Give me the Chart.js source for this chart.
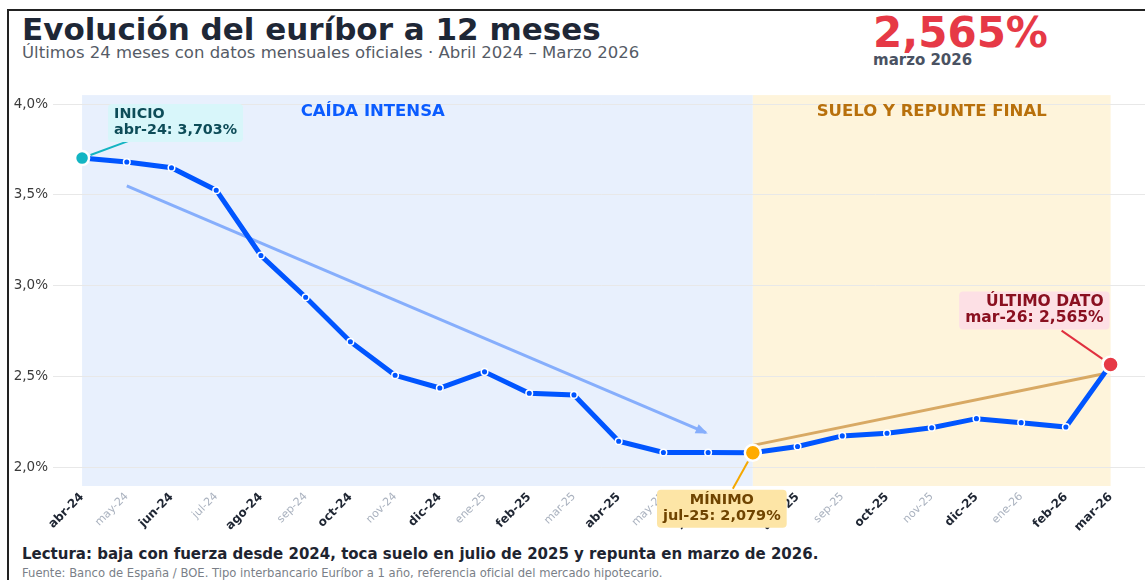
<!DOCTYPE html>
<html lang="es">
<head>
<meta charset="utf-8">
<title>Evolución del euríbor a 12 meses</title>
<script src="https://cdn.jsdelivr.net/npm/chart.js@4.4.1/dist/chart.umd.min.js"></script>
<style>
  html, body { margin: 0; padding: 0; background: #fff; overflow: hidden; }
  body { width: 1145px; height: 580px; position: relative; font-family: "DejaVu Sans", sans-serif; }
  .frame { position: absolute; left: 7px; top: 9px; width: 1200px; height: 600px;
           border-top: 2px solid #222; border-left: 2px solid #222; }
  .txt { position: absolute; white-space: nowrap; line-height: 1; }
  #titulo { left: 22px; top: 14px; font-size: 31px; font-weight: bold; color: #1e2736; }
  #subtitulo { left: 22px; top: 45px; font-size: 16.5px; color: #555b66; }
  #valor { left: 873px; top: 12px; font-size: 42px; font-weight: bold; color: #e63946; }
  #fecha { left: 873px; top: 53px; font-size: 15px; font-weight: bold; color: #4a5262; }
  #lectura { left: 22px; top: 547px; font-size: 15px; font-weight: bold; color: #1e2430; }
  #fuente { left: 22px; top: 568px; font-size: 11.6px; color: #7a7f88; }
  canvas { position: absolute; left: 0; top: 82px; }
</style>
</head>
<body>
<div class="frame"></div>
<div class="txt" id="titulo">Evolución del euríbor a 12 meses</div>
<div class="txt" id="subtitulo">Últimos 24 meses con datos mensuales oficiales · Abril 2024 – Marzo 2026</div>
<div class="txt" id="valor">2,565%</div>
<div class="txt" id="fecha">marzo 2026</div>
<canvas id="grafico" width="1160" height="454"></canvas>
<div class="txt" id="lectura">Lectura: baja con fuerza desde 2024, toca suelo en julio de 2025 y repunta en marzo de 2026.</div>
<div class="txt" id="fuente">Fuente: Banco de España / BOE. Tipo interbancario Euríbor a 1 año, referencia oficial del mercado hipotecario.</div>
<script>
// datos mensuales (%)
const meses = ["abr-24", "may-24", "jun-24", "jul-24", "ago-24", "sep-24", "oct-24", "nov-24",
  "dic-24", "ene-25", "feb-25", "mar-25", "abr-25", "may-25", "jun-25", "jul-25",
  "ago-25", "sep-25", "oct-25", "nov-25", "dic-25", "ene-26", "feb-26", "mar-26"];
const euribor = [3.703, 3.681, 3.650, 3.526, 3.166, 2.936, 2.691, 2.506,
  2.436, 2.525, 2.407, 2.398, 2.143, 2.081, 2.081, 2.079,
  2.114, 2.172, 2.187, 2.217, 2.267, 2.245, 2.221, 2.565];
const yTicks = [2.0, 2.5, 3.0, 3.5, 4.0];

// tramos (índices de mes) y sus rótulos
const fases = [[0, 15], [15, 23]];
const faseNombres = ["CAÍDA INTENSA", "SUELO Y REPUNTE FINAL"];
const faseCentros = [6.5, 19];

// líneas de tendencia [mes, %]
const tendBajada = [[1, 3.55], [13.95, 2.19]];
const tendRepunte = [[15, 2.12], [22.85, 2.515]];

// puntos destacados: inicio, mínimo, último
const destacados = [0, 15, 23];
const destTitulos = ["INICIO", "MÍNIMO", "ÚLTIMO DATO"];

const fmt = v => v.toFixed(3).replace(".", ",");

const colFases = ["#e8f0fd", "#fef4db"];
const colFaseTxt = ["#0b5cff", "#b8700c"];
const estiloDest = [
  { punto: "#13b5c3", caja: "#d8f6fa", texto: "#0d4c58", linea: "#14b4c2", r: 7, fs: 14.3,
    align: "left", bx: 26, by: -54, lx: 46, ly: -17 },
  { punto: "#ffab00", caja: "#fde5a6", texto: "#6f4400", linea: "#f5a800", r: 8, fs: 14.5,
    align: "center", bx: -31, by: 37, lx: -20, ly: 36 },
  { punto: "#e63946", caja: "#fde0e5", texto: "#8a1020", linea: "#e0303f", r: 8, fs: 15.5,
    align: "right", bx: -1, by: -73, lx: -49, ly: -34 }
];

Chart.defaults.font.family = "'DejaVu Sans', sans-serif";

const fondo = {
  id: "fondo",
  beforeDraw(chart) {
    const { ctx, chartArea: a, scales: { x } } = chart;
    ctx.save();
    fases.forEach((f, i) => {
      const x0 = x.getPixelForValue(f[0]), x1 = x.getPixelForValue(f[1]);
      ctx.fillStyle = colFases[i];
      ctx.fillRect(x0, a.top, x1 - x0, a.bottom - a.top);
    });
    ctx.restore();
  },
  afterDraw(chart) {
    const { ctx, chartArea: a, scales: { x, y } } = chart;
    ctx.save();
    // rótulos de tramo
    ctx.font = "bold 16.5px 'DejaVu Sans'";
    ctx.textAlign = "center";
    ctx.textBaseline = "middle";
    faseNombres.forEach((t, i) => {
      ctx.fillStyle = colFaseTxt[i];
      ctx.fillText(t, x.getPixelForValue(faseCentros[i]), a.top + 17);
    });

    // punta de flecha de la tendencia bajista
    const p0 = [x.getPixelForValue(tendBajada[0][0]), y.getPixelForValue(tendBajada[0][1])];
    const p1 = [x.getPixelForValue(tendBajada[1][0]), y.getPixelForValue(tendBajada[1][1])];
    const ang = Math.atan2(p1[1] - p0[1], p1[0] - p0[0]);
    ctx.fillStyle = "#86aefc";
    ctx.beginPath();
    ctx.moveTo(p1[0] + 2 * Math.cos(ang), p1[1] + 2 * Math.sin(ang));
    ctx.lineTo(p1[0] - 10 * Math.cos(ang) - 5 * Math.sin(ang), p1[1] - 10 * Math.sin(ang) + 5 * Math.cos(ang));
    ctx.lineTo(p1[0] - 10 * Math.cos(ang) + 5 * Math.sin(ang), p1[1] - 10 * Math.sin(ang) - 5 * Math.cos(ang));
    ctx.closePath();
    ctx.fill();

    // notas de puntos destacados
    destacados.forEach((idx, k) => {
      const s = estiloDest[k];
      const px = x.getPixelForValue(idx), py = y.getPixelForValue(euribor[idx]);
      // línea guía
      const sx = px + s.lx, sy = py + s.ly;
      const d = Math.hypot(sx - px, sy - py);
      const ex = px + (sx - px) / d * (s.r + 2), ey = py + (sy - py) / d * (s.r + 2);
      ctx.strokeStyle = s.linea;
      ctx.lineWidth = 2;
      ctx.beginPath();
      ctx.moveTo(sx, sy);
      ctx.lineTo(ex, ey);
      ctx.stroke();
      // caja
      const lineas = [destTitulos[k], meses[idx] + ": " + fmt(euribor[idx]) + "%"];
      ctx.font = "bold " + s.fs + "px 'DejaVu Sans'";
      const w = Math.max(...lineas.map(l => ctx.measureText(l).width)) + 12;
      const h = 38;
      let bx;
      if (s.align === "left") bx = px + s.bx;
      else if (s.align === "center") bx = px + s.bx - w / 2;
      else bx = px + s.bx - w;
      const by = py + s.by;
      ctx.fillStyle = s.caja;
      ctx.beginPath();
      ctx.roundRect(bx, by, w, h, 4);
      ctx.fill();
      ctx.fillStyle = s.texto;
      ctx.textAlign = s.align;
      const tx = s.align === "left" ? bx + 6 : s.align === "center" ? bx + w / 2 : bx + w - 6;
      ctx.fillText(lineas[0], tx, by + 10.5);
      ctx.fillText(lineas[1], tx, by + 26.5);
    });
    ctx.restore();
  }
};

const resaltado = i => i % 2 === 0 || destacados.includes(i);

new Chart(document.getElementById("grafico"), {
  type: "line",
  data: {
    datasets: [
      {
        data: euribor.map((v, i) => ({ x: i, y: v })),
        borderColor: "#0055ff",
        borderWidth: 5,
        tension: 0,
        pointRadius: c => { const k = destacados.indexOf(c.dataIndex); return k >= 0 ? estiloDest[k].r : 3.3; },
        pointBackgroundColor: c => { const k = destacados.indexOf(c.dataIndex); return k >= 0 ? estiloDest[k].punto : "#0055ff"; },
        pointBorderColor: "#ffffff",
        pointBorderWidth: c => destacados.includes(c.dataIndex) ? 2.5 : 1.5
      },
      {
        data: tendBajada.map(p => ({ x: p[0], y: p[1] })),
        borderColor: "#86aefc",
        borderWidth: 3,
        pointRadius: 0
      },
      {
        data: tendRepunte.map(p => ({ x: p[0], y: p[1] })),
        borderColor: "#d8a964",
        borderWidth: 3,
        pointRadius: 0
      }
    ]
  },
  options: {
    responsive: false,
    animation: false,
    layout: { padding: { top: 9, right: 10, bottom: 0, left: 0 } },
    plugins: { legend: { display: false }, tooltip: { enabled: false } },
    scales: {
      x: {
        type: "linear",
        min: -0.65,
        max: 23.87,
        afterBuildTicks: s => { s.ticks = meses.map((m, i) => ({ value: i })); },
        afterFit: s => { s.height = 50; },
        grid: { display: false, drawTicks: false },
        border: { display: false },
        ticks: {
          autoSkip: false,
          minRotation: 45,
          maxRotation: 45,
          padding: 4,
          callback: v => meses[v],
          color: c => resaltado(c.index) ? "#1f2633" : "#aab2bf",
          font: c => resaltado(c.index) ? { size: 12, weight: "bold" } : { size: 11 }
        }
      },
      y: {
        min: 1.896,
        max: 4.05,
        afterBuildTicks: s => { s.ticks = yTicks.map(v => ({ value: v })); },
        afterFit: s => { s.width = 53; },
        grid: { color: "#e8e8e8", drawTicks: false },
        border: { display: false },
        ticks: {
          padding: 5,
          color: "#3a3a3a",
          font: { size: 13.5 },
          callback: v => v.toFixed(1).replace(".", ",") + "%"
        }
      }
    }
  },
  plugins: [fondo]
});
</script>
</body>
</html>
